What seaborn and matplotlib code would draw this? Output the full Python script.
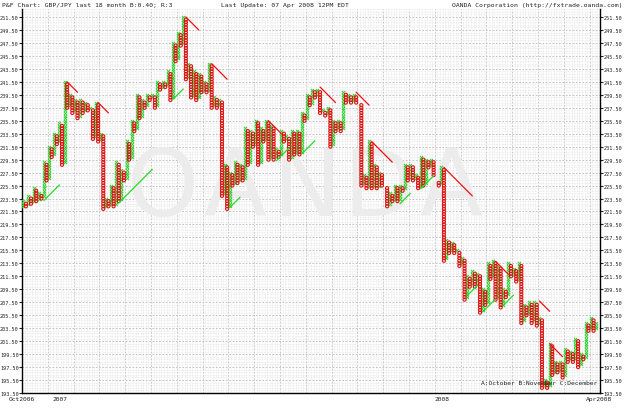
import numpy as np
import pandas as pd
import matplotlib
matplotlib.use("Agg")
import matplotlib.pyplot as plt
import seaborn as sns

BOX = 0.40
BASE = 193.5

# each entry: top of an X column and bottom of the O column after it
col_high = [223.2, 224.1, 224.9, 224.4, 229.0, 231.4, 233.5, 235.0, 241.4, 239.4,
            238.6, 238.6, 238.4, 237.3, 238.3, 233.5, 223.4, 225.7, 229.2, 228.0,
            232.4, 235.3, 239.4, 238.6, 239.6, 239.6, 241.7, 241.7, 243.0, 247.6,
            249.2, 251.5, 244.3, 243.0, 242.8, 241.7, 244.3, 239.2, 238.6, 228.8,
            227.3, 229.1, 228.8, 234.5, 233.8, 235.3, 234.2, 235.3, 234.8, 231.1,
            234.0, 233.1, 233.8, 233.8, 236.8, 239.3, 240.4, 240.4, 237.0, 237.3,
            235.3, 235.3, 239.9, 239.6, 239.6, 238.5, 227.0, 232.2, 228.5, 227.6,
            225.3, 224.2, 225.3, 225.5, 228.8, 228.8, 227.0, 230.0, 229.3, 229.6,
            226.5, 228.2, 217.2, 216.5, 215.7, 214.2, 211.4, 212.2, 211.9, 209.5,
            213.4, 213.8, 213.0, 209.5, 213.4, 212.6, 213.4, 206.9, 207.7, 207.7,
            205.2, 195.7, 201.1, 198.4, 198.3, 200.3, 199.8, 201.8, 199.5, 204.4,
            205.0, 204.4]
col_low = [222.4, 222.8, 223.0, 223.3, 226.5, 230.0, 231.9, 228.6, 237.3, 236.8,
           236.0, 236.8, 237.0, 232.7, 232.4, 222.1, 222.2, 222.4, 222.9, 226.2,
           229.6, 234.0, 236.0, 237.3, 238.6, 237.3, 240.4, 240.6, 238.8, 244.6,
           246.9, 241.9, 239.2, 238.8, 240.0, 240.0, 237.3, 237.3, 224.0, 221.9,
           225.4, 226.0, 226.2, 228.5, 231.4, 228.5, 232.2, 229.3, 229.3, 230.1,
           232.2, 229.3, 230.4, 230.4, 235.3, 238.1, 239.2, 236.8, 236.2, 231.6,
           233.9, 233.9, 238.5, 238.4, 238.4, 225.4, 225.0, 225.0, 225.0, 225.3,
           222.4, 223.0, 223.1, 224.5, 226.5, 226.5, 225.0, 225.4, 228.4, 227.0,
           225.3, 213.9, 215.2, 215.2, 212.9, 208.0, 210.0, 210.0, 206.0, 206.9,
           211.1, 208.0, 206.8, 208.3, 211.5, 210.6, 204.4, 205.4, 204.4, 204.1,
           194.4, 194.4, 196.4, 196.7, 195.9, 198.4, 198.4, 197.6, 198.6, 203.1,
           203.1, 204.4]
first_low = 222.0

# trend lines: start column, start price, length in columns
res_col = [17, 29, 63, 73, 95, 115, 129, 135, 163, 183, 200, 204]
res_price = [241.5, 238.3, 251.5, 244.3, 235.5, 240.7, 239.9, 232.3, 228.3, 213.8, 207.7, 201.1]
res_len = [4, 4, 5, 6, 5, 6, 5, 8, 11, 5, 4, 5]
sup_col = [8, 37, 58, 80, 98, 108, 146, 154, 172, 178, 186]
sup_price = [223.2, 222.8, 238.8, 222.1, 229.3, 230.4, 222.7, 225.0, 208.5, 206.0, 207.0]
sup_len = [6, 13, 4, 4, 5, 5, 4, 5, 4, 5, 4]

date_ticks = [-0.5, 14.2, 162.4, 223.1]
date_labels = ["Oct2006", "2007", "2008", "Apr2008"]


def snap(v):
    return BASE + round((v - BASE) / BOX) * BOX


rows = []
prev_low = snap(first_low)
for i, (hi, lo) in enumerate(zip(col_high, col_low)):
    hi, lo = snap(hi), snap(lo)
    for p in np.arange(prev_low + BOX, hi + BOX / 2, BOX):
        rows.append((2 * i, p, "X"))
    for p in np.arange(hi - BOX, lo - BOX / 2, -BOX):
        rows.append((2 * i + 1, p, "O"))
    prev_low = lo
df = pd.DataFrame(rows, columns=["col", "price", "kind"])

sns.set_style("white")
plt.rcParams["font.family"] = ["DejaVu Sans Mono"]

fig = plt.figure(figsize=(6.25, 4.10), dpi=100)
ax = fig.add_axes([22 / 625, 16 / 410, 578 / 625, 384 / 410])

ax.set_xlim(-0.5, 223.1)
ax.set_ylim(193.5, 252.73)

# background grid
ax.set_yticks(np.arange(193.5, 252, 2.0))
ax.set_yticks(np.arange(193.5, 252.8, BOX), minor=True)
ax.set_xticks(np.arange(-0.5, 224, 1), minor=True)
ax.grid(which="minor", color="#e4e4e4", lw=0.5, ls=(0, (1, 1)))
ax.grid(which="major", axis="y", color="#b8b8b8", lw=0.6, ls=(0, (2, 2)))
for x in np.arange(9.5, 224, 10):
    ax.axvline(x, color="#c4c4c4", lw=0.6, ls=(0, (2, 2)), zorder=0.8)

# watermark
for k, ch in enumerate("OANDA"):
    ax.text((163 + 72 * k - 22) / 578, (394 - 190) / 384, ch, transform=ax.transAxes,
            fontsize=66, family="DejaVu Sans", color="#ececec",
            ha="center", va="center", zorder=0.9)

xs = df[df.kind == "X"]
os_ = df[df.kind == "O"]
sns.scatterplot(x=xs.col, y=xs.price, marker="x", color="#2fd12f", s=5,
                linewidth=0.7, ax=ax, zorder=3)
sns.scatterplot(x=os_.col, y=os_.price, marker="o", facecolors="none",
                edgecolor="#dd1111", s=5, linewidth=0.8, ax=ax, zorder=3)

for c, p, n in zip(res_col, res_price, res_len):
    ax.plot([c, c + n], [p, p - n * BOX], color="#ee1111", lw=0.9, zorder=4)
for c, p, n in zip(sup_col, sup_price, sup_len):
    ax.plot([c, c + n], [p, p + n * BOX], color="#22dd22", lw=0.9, zorder=4)

ax.set_xlabel("")
ax.set_ylabel("")
ax.yaxis.set_major_formatter(matplotlib.ticker.FormatStrFormatter("%.2f"))
ax.tick_params(axis="y", which="major", direction="out", length=2, width=0.8,
               labelsize=3.7, left=True, right=True, labelleft=True, labelright=True,
               pad=0.4, colors="#222222")
ax.tick_params(which="minor", length=0)
ax.set_xticks(date_ticks)
ax.set_xticklabels(date_labels)
ax.tick_params(axis="x", which="major", direction="out", length=2, width=0.6,
               labelsize=4.5, pad=0.5, colors="#222222")
ax.spines["top"].set_visible(False)
for s in ["left", "right", "bottom"]:
    ax.spines[s].set_color("black")
    ax.spines[s].set_linewidth(1.0)

ax.text(0.995, 0.02, "A:October B:November C:December", transform=ax.transAxes,
        ha="right", va="bottom", fontsize=4.5, color="#222222")
fig.text(2 / 625, 1 - 6 / 410, "P&F Chart: GBP/JPY last 18 month B:0.40; R:3",
         ha="left", va="center", fontsize=4.6, color="#222222")
fig.text(285 / 625, 1 - 6 / 410, "Last Update: 07 Apr 2008 12PM EDT",
         ha="center", va="center", fontsize=4.6, color="#222222")
fig.text(622 / 625, 1 - 6 / 410, "OANDA Corporation (http://fxtrade.oanda.com)",
         ha="right", va="center", fontsize=4.6, color="#222222")

fig.savefig("out.png", dpi=100)
